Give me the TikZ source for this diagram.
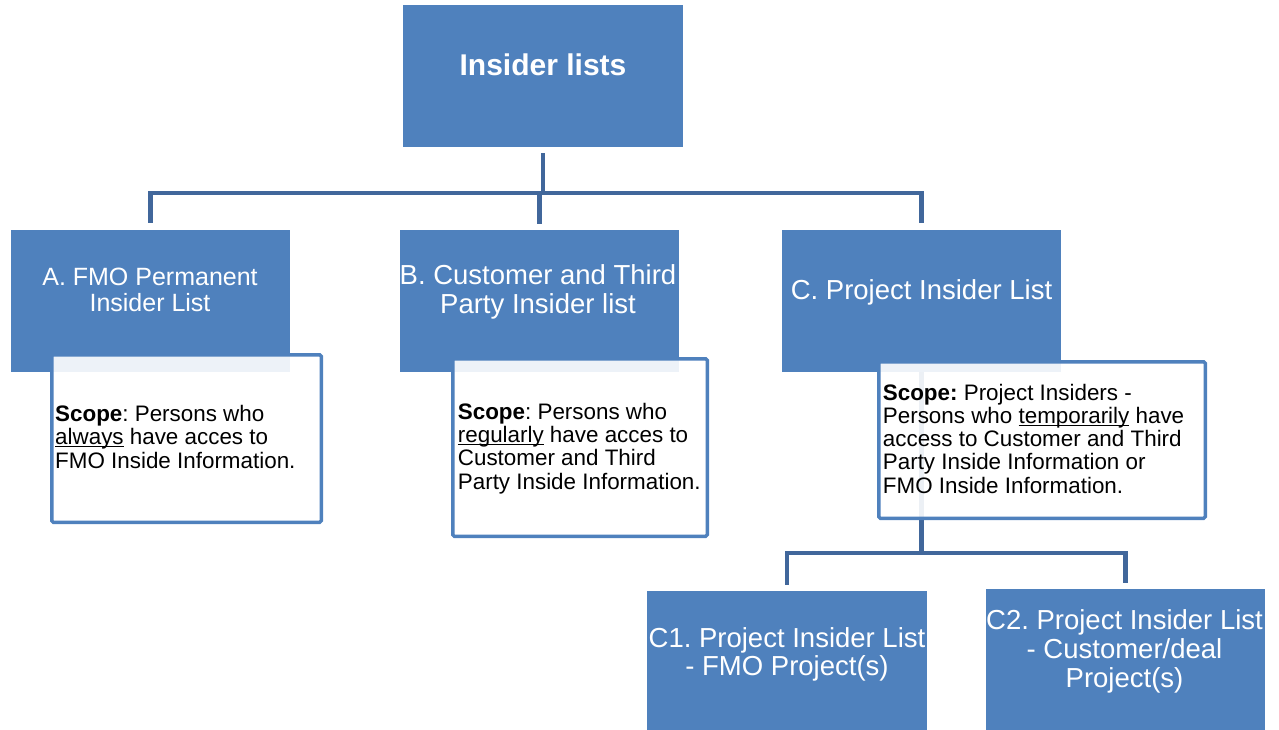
\documentclass[tikz,border=0pt]{standalone}
\usepackage{fontspec}
\setmainfont{Liberation Sans}
\frenchspacing
\definecolor{boxblue}{RGB}{79,129,189}
\definecolor{lineblue}{RGB}{65,103,155}
\newcommand\myul[1]{\setbox0\hbox{#1}\rlap{\rule[-2.4pt]{\wd0}{1.1pt}}\box0\relax}
\tikzset{
  bluebox/.style={rectangle, fill=boxblue, inner sep=0pt, minimum width=279pt, minimum height=142pt},
  scopebox/.style={rectangle, draw=boxblue, line width=3.5pt, rounded corners=1.5pt, fill=white, fill opacity=0.9, draw opacity=1, inner sep=0pt},
  conn/.style={draw=lineblue, line width=4.5pt},
  lbl/.style={text=white, inner sep=0pt, align=center},
  scopetxt/.style={text=black, inner sep=0pt, align=left, anchor=north west, font=\fontsize{22.4}{23.3}\selectfont},
}
\begin{document}
\begin{tikzpicture}[x=1pt,y=-1pt]
\useasboundingbox (0,0) rectangle (1279,730);
% blue boxes
\node[bluebox, minimum width=280pt] (title) at (543,76) {};
\node[bluebox] (A) at (150.5,301) {};
\node[bluebox] (B) at (539.5,301) {};
\node[bluebox] (C) at (921.5,301) {};
\node[bluebox, minimum width=280pt] (C1) at (787,662) {};
\node[bluebox] (C2) at (1125.5,660) {};
% connectors
\coordinate (hub) at (543,193);
\draw[conn] ([yshift=-6pt]title.south) -- (hub);
\draw[conn] ([yshift=7pt]A.north) |- (hub) -| ([yshift=7pt]C.north);
\draw[conn] ([yshift=6pt]B.north) -- (B.north |- hub);
\coordinate (hubC) at (921.5,553);
\draw[conn] (C.south) -- (hubC);
\draw[conn] ([yshift=6pt]C1.north) |- (hubC) -| ([yshift=6pt]C2.north);
% scope boxes
\node[scopebox, minimum width=269.5pt, minimum height=167.5pt] (sA) at (186.5,438.5) {};
\node[scopebox, minimum width=254.5pt, minimum height=177.5pt] (sB) at (580,447.5) {};
\node[scopebox, minimum width=326.5pt, minimum height=156.5pt] (sC) at (1042,440) {};
% labels
\node[lbl, anchor=base, font=\bfseries\fontsize{30}{32}\selectfont] (tT) at (543,76) {Insider lists};
\node[lbl, anchor=north, font=\fontsize{25}{26}\selectfont] (tA) at (150,268) {A. FMO Permanent\\Insider List};
\node[lbl, anchor=north, font=\fontsize{27.5}{29}\selectfont] (tB) at (538,264.2) {B. Customer and Third\\Party Insider list};
\node[lbl, anchor=base, font=\fontsize{27.5}{29}\selectfont] (tC) at (921.5,299) {C. Project Insider List};
\node[lbl, anchor=north, font=\fontsize{27.5}{28.5}\selectfont] (tC1) at (787,627.2) {C1. Project Insider List\\- FMO Project(s)};
\node[lbl, anchor=north, font=\fontsize{27.5}{29}\selectfont] (tC2) at (1124.5,609.2) {C2. Project Insider List\\- Customer/deal\\Project(s)};
% scope texts
\node[scopetxt] (xA) at (55,405.1) {\textbf{Scope}: Persons who\\\myul{always} have acces to\\FMO Inside Information.};
\node[scopetxt] (xB) at (457.7,402.9) {\textbf{Scope}: Persons who\\\myul{regularly} have acces to\\Customer and Third\\Party Inside Information.};
\node[scopetxt] (xC) at (882.7,383.6) {\textbf{Scope:} Project Insiders -\\Persons who \myul{temporarily} have\\access to Customer and Third\\Party Inside Information or\\FMO Inside Information.};
\end{tikzpicture}
\end{document}
